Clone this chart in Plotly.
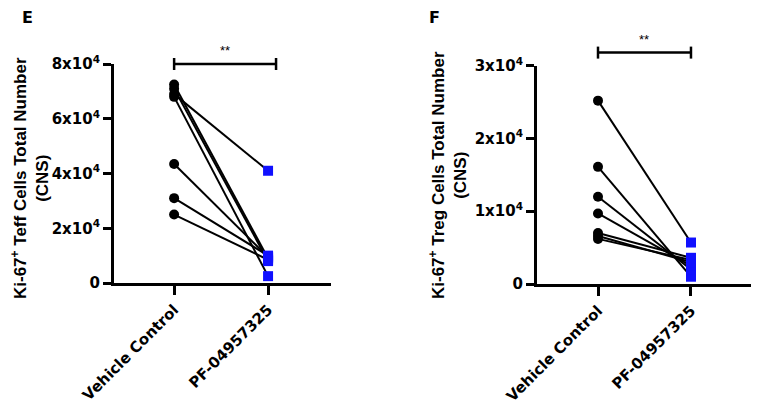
import plotly.graph_objects as go

categories = ["Vehicle Control", "PF-04957325"]

# Panel E: Ki-67+ Teff cells
teff_vehicle = [72500, 71000, 69000, 68000, 43500, 31000, 25000]
teff_pf = [9000, 8000, 41000, 2500, 9500, 10000, 8500]

# Panel F: Ki-67+ Treg cells
treg_vehicle = [25200, 16100, 12000, 9700, 7000, 6600, 6200]
treg_pf = [5700, 1000, 2000, 2500, 3600, 3000, 3300]

e_ticks = [0, 20000, 40000, 60000, 80000]
e_ticktext = ["0", "2x10<sup>4</sup>", "4x10<sup>4</sup>", "6x10<sup>4</sup>", "8x10<sup>4</sup>"]
f_ticks = [0, 10000, 20000, 30000]
f_ticktext = ["0", "1x10<sup>4</sup>", "2x10<sup>4</sup>", "3x10<sup>4</sup>"]

e_range = [0, 80000]
f_range = [0, 30000]
e_sig_y = 80000
f_sig_y = 31800

FONT = "DejaVu Sans, Liberation Sans, Arial, sans-serif"
TFONT = "Liberation Sans, Arial, Helvetica, sans-serif"
BLUE = "#1010ff"

# page body has an 8px default margin; figure is sized to fill the rest
OFF = 8
W, H = 759 - OFF, 405 - OFF

def px(x):
    return (x - OFF) / W

def py(y):
    return 1 - (y - OFF) / H

e_xdom = [px(114), px(331)]
e_ydom = [py(283), py(64)]
f_xdom = [px(537), px(753)]
f_ydom = [py(284), py(65.7)]

fig = go.Figure()

def add_panel(vals_a, vals_b, xa, ya):
    for a, b in zip(vals_a, vals_b):
        fig.add_trace(go.Scatter(x=categories, y=[a, b], mode="lines",
                                 line=dict(color="black", width=2),
                                 xaxis=xa, yaxis=ya, showlegend=False,
                                 cliponaxis=False, hoverinfo="skip"))
    fig.add_trace(go.Scatter(x=[categories[0]] * len(vals_a), y=vals_a, mode="markers",
                             marker=dict(symbol="circle", size=10, color="black"),
                             xaxis=xa, yaxis=ya, showlegend=False, cliponaxis=False))
    fig.add_trace(go.Scatter(x=[categories[1]] * len(vals_b), y=vals_b, mode="markers",
                             marker=dict(symbol="square", size=10, color=BLUE,
                                         line=dict(width=0)),
                             xaxis=xa, yaxis=ya, showlegend=False, cliponaxis=False))

add_panel(teff_vehicle, teff_pf, "x", "y")
add_panel(treg_vehicle, treg_pf, "x2", "y2")

axis_common = dict(showline=True, linewidth=3, linecolor="black", ticks="outside",
                   tickwidth=3, tickcolor="black", showgrid=False, zeroline=False,
                   automargin=False,
                   tickfont=dict(family=FONT, size=15, color="black", weight="bold"))

fig.update_layout(
    template="none",
    width=W, height=H, margin=dict(l=0, r=0, t=0, b=0, pad=0),
    paper_bgcolor="white", plot_bgcolor="white",
    font=dict(family=FONT, color="black"),
    xaxis=dict(domain=e_xdom, type="category", range=[-0.64, 1.67],
               tickangle=-45, ticklen=9, anchor="y", **axis_common),
    yaxis=dict(domain=e_ydom, range=e_range, tickvals=e_ticks,
               ticktext=e_ticktext, ticklen=8, anchor="x", **axis_common),
    xaxis2=dict(domain=f_xdom, type="category", range=[-0.656, 1.667],
                tickangle=-45, ticklen=9, anchor="y2", **axis_common),
    yaxis2=dict(domain=f_ydom, range=f_range, tickvals=f_ticks,
                ticktext=f_ticktext, ticklen=8, anchor="x2", **axis_common),
)

# significance bars (x in data units, y converted from data value to paper)
def sig_bar(xref, ydom, yrange, y, x1, cap_px):
    p = ydom[0] + (y - yrange[0]) / (yrange[1] - yrange[0]) * (ydom[1] - ydom[0])
    cap = cap_px / H
    fig.add_shape(type="line", xref=xref, yref="paper", x0=0, x1=x1, y0=p, y1=p,
                  line=dict(color="black", width=2.5))
    for xx in (0, x1):
        fig.add_shape(type="line", xref=xref, yref="paper", x0=xx, x1=xx,
                      y0=p - cap, y1=p + cap, line=dict(color="black", width=2.5))
    fig.add_annotation(xref=xref, yref="paper", x=x1 / 2, y=p, text="**", showarrow=False,
                       xanchor="center", yanchor="middle",
                       yshift=13, font=dict(family=TFONT, size=13, color="black"))

sig_bar("x", e_ydom, e_range, e_sig_y, 1.085, 6)
sig_bar("x2", f_ydom, f_range, f_sig_y, 1.0, 6)

# y axis titles
fig.add_annotation(xref="paper", yref="paper", x=px(30), y=py(178),
                   xanchor="center", yanchor="middle",
                   text="Ki-67<sup>+</sup> Teff Cells Total Number<br>(CNS)",
                   textangle=-90, showarrow=False,
                   font=dict(family=TFONT, size=17, color="black", weight="bold"))
fig.add_annotation(xref="paper", yref="paper", x=px(448), y=py(175),
                   xanchor="center", yanchor="middle",
                   text="Ki-67<sup>+</sup> Treg Cells Total Number<br>(CNS)",
                   textangle=-90, showarrow=False,
                   font=dict(family=TFONT, size=17, color="black", weight="bold"))

# panel letters
fig.add_annotation(xref="paper", yref="paper", x=px(27), y=py(17), text="E",
                   xanchor="center", yanchor="middle",
                   showarrow=False, font=dict(family=FONT, size=16, color="black", weight="bold"))
fig.add_annotation(xref="paper", yref="paper", x=px(434), y=py(17), text="F",
                   xanchor="center", yanchor="middle",
                   showarrow=False, font=dict(family=FONT, size=16, color="black", weight="bold"))

fig.write_html("out.html")
